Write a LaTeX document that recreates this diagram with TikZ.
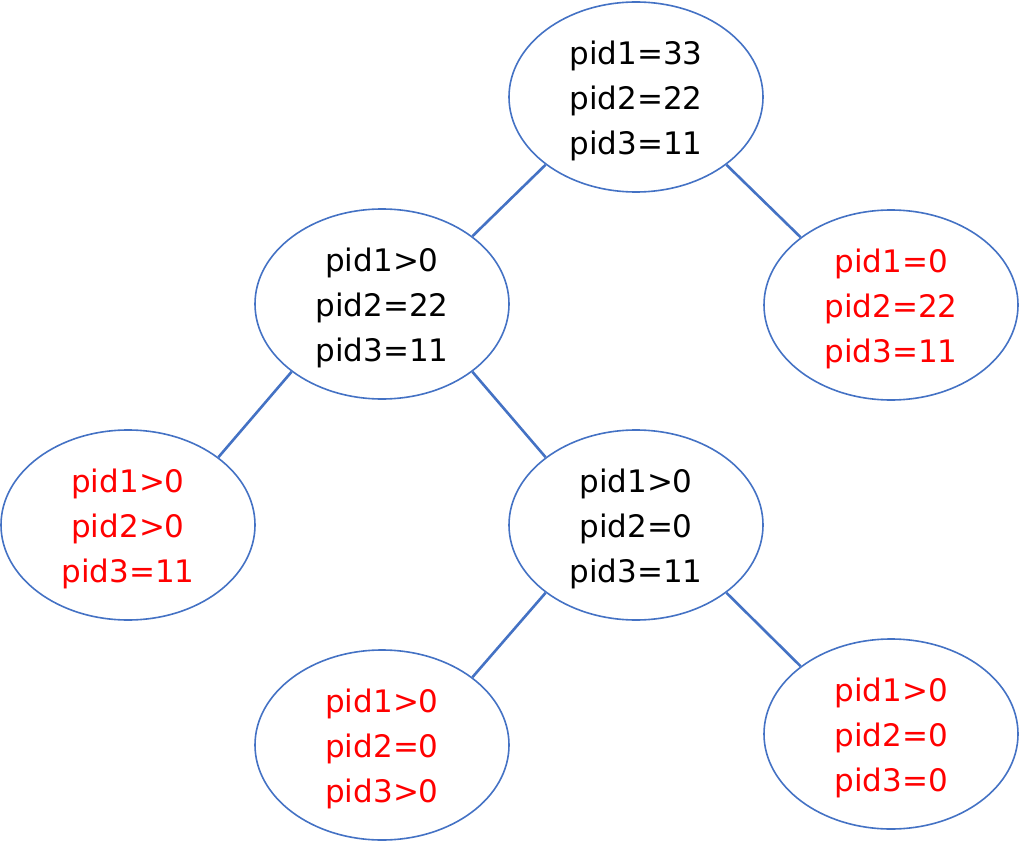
\documentclass[tikz,border=0pt]{standalone}
\usepackage{fontspec}
\setmainfont{DejaVu Sans}
\usetikzlibrary{shapes.geometric}
\definecolor{edgeblue}{HTML}{4472C4}
\definecolor{hitred}{HTML}{FF0000}
\tikzset{
  state/.style={ellipse, draw=edgeblue, line width=1.6pt, minimum width=254pt,
    minimum height=190pt, inner sep=0pt, align=center,
    font=\fontsize{31pt}{45pt}\selectfont},
  caption/.style={align=center, font=\fontsize{31pt}{45pt}\selectfont, yshift=-4pt},
  leaf/.style={state, text=hitred},
  link/.style={draw=edgeblue, line width=2.6pt}
}
\begin{document}
\begin{tikzpicture}[x=1pt, y=-1pt]
  \useasboundingbox (0,0) rectangle (1019,842);
  % ellipses; their text is set a little below centre
  \node[state] (root) at (636,97)  {};
  \node[state] (a)    at (382,304) {};
  \node[leaf]  (b)    at (891,305) {};
  \node[leaf]  (c)    at (128,525) {};
  \node[state] (d)    at (636,525) {};
  \node[leaf]  (e)    at (382,745) {};
  \node[leaf]  (f)    at (891,734) {};
  \node[caption] (troot) at (root.center) {pid1=33\\pid2=22\\pid3=11};
  \node[caption] (ta)    at (a.center)    {pid1>0\\pid2=22\\pid3=11};
  \node[caption, text=hitred] (tb) at (b.center) {pid1=0\\pid2=22\\pid3=11};
  \node[caption, text=hitred] (tc) at (c.center) {pid1>0\\pid2>0\\pid3=11};
  \node[caption] (td)    at (d.center)    {pid1>0\\pid2=0\\pid3=11};
  \node[caption, text=hitred] (te) at (e.center) {pid1>0\\pid2=0\\pid3>0};
  \node[caption, text=hitred] (tf) at (f.center) {pid1>0\\pid2=0\\pid3=0};
  \draw[link] (root.south west) -- (a.north east);
  \draw[link] (root.south east) -- (b.north west);
  \draw[link] (a.south west) -- (c.north east);
  \draw[link] (a.south east) -- (d.north west);
  \draw[link] (d.south west) -- (e.north east);
  \draw[link] (d.south east) -- (f.north west);
\end{tikzpicture}
\end{document}
